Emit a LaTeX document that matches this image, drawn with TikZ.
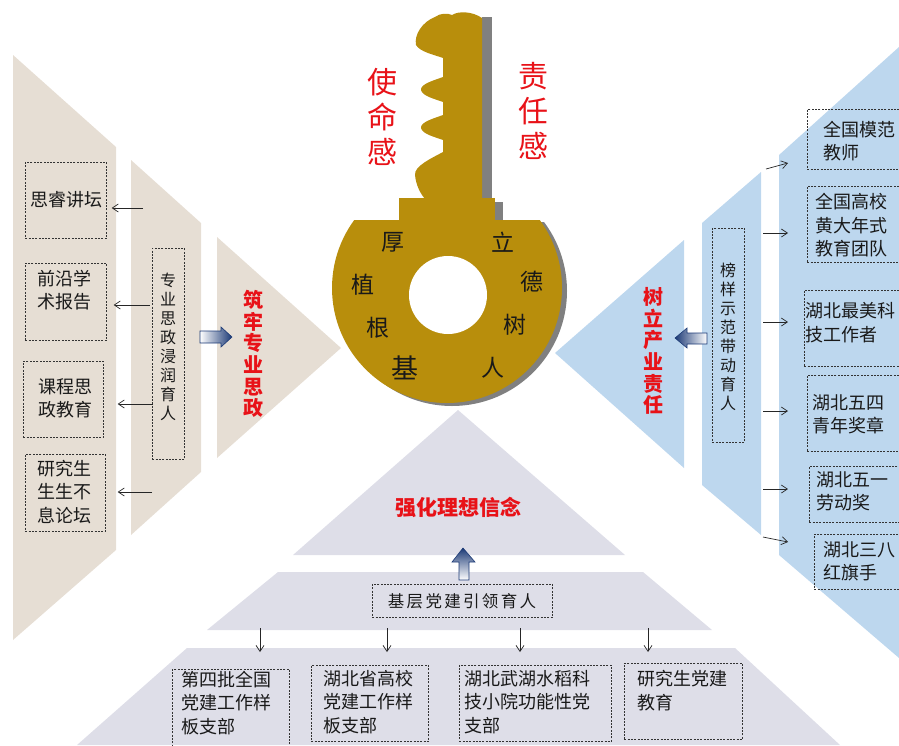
\documentclass[tikz,border=0pt]{standalone}
\usepackage{fontspec}
\setmainfont{Noto Sans CJK SC}
\usetikzlibrary{arrows.meta}

\definecolor{beige}{RGB}{230,222,212}
\definecolor{skyblue}{RGB}{189,215,238}
\definecolor{lavender}{RGB}{222,222,232}
\definecolor{keygold}{RGB}{184,142,12}
\definecolor{keyshadow}{RGB}{128,128,128}
\definecolor{redtxt}{RGB}{232,18,24}
\definecolor{arrowblue}{RGB}{28,58,118}

\tikzset{
  dbox/.style={draw=black!80, dash pattern=on 2pt off 1.3pt, line width=0.7pt,
               inner sep=0pt, anchor=north west},
  btxt/.style={font=\fontsize{18}{23.5}\selectfont, align=left, inner sep=0pt, text=black!90},
  vtxt/.style={font=\fontsize{16}{19}\selectfont, align=center, inner sep=0pt, text=black!90},
  redv/.style={font=\bfseries\fontsize{20}{21.6}\selectfont, text=redtxt, align=center, inner sep=0pt},
  keyred/.style={font=\fontsize{30}{35}\selectfont, text=redtxt, align=center, inner sep=0pt},
  keych/.style={font=\fontsize{23}{23}\selectfont, text=black!90, inner sep=0pt},
  arr/.style={-{Straight Barb[length=6pt,width=8pt]}, line width=0.7pt, draw=black!85},
  fatarrow/.style={draw=arrowblue, line width=0.6pt},
}

\begin{document}
\begin{tikzpicture}[x=1pt, y=-1pt]
\useasboundingbox (0,0) rectangle (899,745);
\clip (0,0) rectangle (899,745);

% ---------- left chevron (beige) ----------
\fill[beige] (13,55) -- (116,147) -- (116,550) -- (13,640) -- cycle;
\fill[beige] (131,160) -- (201,223) -- (201,472) -- (131,535) -- cycle;
\fill[beige] (217,237) -- (341,348) -- (217,458) -- cycle;

% ---------- right chevron (blue) ----------
\fill[skyblue] (555,353) -- (684,240) -- (684,468) -- cycle;
\fill[skyblue] (702,223) -- (761,172) -- (761,535) -- (702,485) -- cycle;
\fill[skyblue] (779,155) -- (899,47) -- (899,658) -- (779,555) -- cycle;

% ---------- bottom pyramid (lavender) ----------
\fill[lavender] (458,410) -- (625,555) -- (293,555) -- cycle;
\fill[lavender] (278,572) -- (643,572) -- (712,630) -- (207,630) -- cycle;
\fill[lavender] (187,648) -- (735,648) -- (840,745) -- (77,745) -- cycle;

% ---------- key ----------
% shadow
\fill[keyshadow] (482,17) rectangle (492,198);
\fill[keyshadow] (494,202) rectangle (503,224);
\begin{scope}
  \clip (300,222) rectangle (600,430);
  \fill[keyshadow] (452,291) circle (115);
\end{scope}
% bow
\begin{scope}
  \clip (300,220) rectangle (600,430);
  \fill[keygold] (447,288) circle (115);
\end{scope}
\fill[white] (448,295) circle (39);
% collar
\fill[keygold] (399,198) rectangle (495,221);
% blade with teeth
\fill[keygold] (482,199) -- (482,18)
  .. controls (472,11) and (458,11) .. (452,15)
  .. controls (448,13) and (440,13) .. (435,17)
  .. controls (422,22) and (414,35) .. (416,45)
  .. controls (420,52) and (435,55) .. (443,58) -- (443,77)
  .. controls (435,80) and (420,84) .. (421,90)
  .. controls (422,96) and (435,99) .. (443,102) -- (443,115)
  .. controls (435,118) and (420,122) .. (421,128)
  .. controls (422,134) and (435,137) .. (443,140) -- (443,152)
  .. controls (432,158) and (414,166) .. (415,175)
  .. controls (416,185) and (420,193) .. (425,199) -- cycle;

% key labels
\node[keyred] (mission) at (382,117) {使\\命\\感};
\node[keyred] (duty) at (533,111) {责\\任\\感};
\node[keych] (k1) at (393,242) {厚};
\node[keych] (k2) at (363,285) {植};
\node[keych] (k3) at (378,328) {根};
\node[keych, font=\fontsize{27}{27}\selectfont] (k4) at (405,368) {基};
\node[keych] (k5) at (503,242) {立};
\node[keych] (k6) at (532,282) {德};
\node[keych] (k7) at (515,325) {树};
\node[keych] (k8) at (493,368) {人};

% ---------- left side content ----------
\node[dbox, minimum width=81pt, minimum height=76pt] (L1) at (25,162) {};
\node[dbox, minimum width=81pt, minimum height=77pt] (L2) at (25,263) {};
\node[dbox, minimum width=80pt, minimum height=76pt] (L3) at (23,361) {};
\node[dbox, minimum width=80pt, minimum height=77pt] (L4) at (25,454) {};
\node[btxt] (L1t) at (66,200) {思睿讲坛};
\node[btxt] (L2t) at (64,290) {前沿学\\术报告};
\node[btxt] (L3t) at (65,398.5) {课程思\\政教育};
\node[btxt] (L4t) at (64,492) {研究生\\生生不\\息论坛};

\node[dbox, minimum width=32pt, minimum height=211pt] (ML) at (152,248) {};
\node[vtxt] (MLt) at (168,346.5) {专\\业\\思\\政\\浸\\润\\育\\人};
\node[redv] (redL) at (253,354) {筑\\牢\\专\\业\\思\\政};

\coordinate (la1) at (143,208);
\coordinate (la2) at (150,305);
\coordinate (la3) at (153,404);
\coordinate (la4) at (152,492);
\draw[arr, shorten >=5pt] (la1) -- (la1 -| L1.east);
\draw[arr, shorten >=7pt] (la2) -- (la2 -| L2.east);
\draw[arr, shorten >=14pt] (la3) -- (la3 -| L3.east);
\draw[arr, shorten >=12pt] (la4) -- (la4 -| L4.east);

% fat arrow toward the red label
\shade[left color=white, right color=arrowblue, fatarrow]
  (200,331) -- (221,331) -- (221,327) -- (232,337) -- (221,347) -- (221,343) -- (200,343) -- cycle;

% ---------- right side content ----------
\node[dbox, minimum width=120pt, minimum height=60pt] (R1) at (807,109) {};
\node[dbox, minimum width=120pt, minimum height=76pt] (R2) at (807,186) {};
\node[dbox, minimum width=120pt, minimum height=76pt] (R3) at (804,290) {};
\node[dbox, minimum width=120pt, minimum height=76pt] (R4) at (807,375) {};
\node[dbox, minimum width=120pt, minimum height=56pt] (R5) at (809,466) {};
\node[dbox, minimum width=120pt, minimum height=55pt] (R6) at (814,534) {};
\node[btxt, anchor=west] (R1t) at (823,141) {全国模范\\教师};
\node[btxt, anchor=west] (R2t) at (815,225.5) {全国高校\\黄大年式\\教育团队};
\node[btxt, anchor=west] (R3t) at (805,322.5) {湖北最美科\\技工作者};
\node[btxt, anchor=west] (R4t) at (812,414.5) {湖北五四\\青年奖章};
\node[btxt, anchor=west] (R5t) at (816,491) {湖北五一\\劳动奖};
\node[btxt, anchor=west] (R6t) at (823,561.5) {湖北三八\\红旗手};

\node[dbox, minimum width=32pt, minimum height=214pt] (MR) at (712,228) {};
\node[vtxt] (MRt) at (728,336.5) {榜\\样\\示\\范\\带\\动\\育\\人};
\node[redv] (redR) at (653,351) {树\\立\\产\\业\\责\\任};

\coordinate (ra1) at (766,169);
\coordinate (ra2) at (763,233);
\coordinate (ra3) at (763,322);
\coordinate (ra4) at (763,411);
\coordinate (ra5) at (763,489);
\coordinate (ra6) at (763,537);
\coordinate (re1) at (788,163);
\coordinate (re6) at (788,542);
\draw[arr] (ra1) -- (re1);
\draw[arr, shorten >=19pt] (ra2) -- (ra2 -| R2.west);
\draw[arr, shorten >=16pt] (ra3) -- (ra3 -| R3.west);
\draw[arr, shorten >=19pt] (ra4) -- (ra4 -| R4.west);
\draw[arr, shorten >=21pt] (ra5) -- (ra5 -| R5.west);
\draw[arr] (ra6) -- (re6);

\shade[left color=arrowblue, right color=white, fatarrow]
  (707,333) -- (687,333) -- (687,328) -- (675,338) -- (687,348) -- (687,344) -- (707,344) -- cycle;

% ---------- bottom content ----------
\node[font=\bfseries\fontsize{21}{21}\selectfont, text=redtxt, inner sep=0pt] (belief) at (458,507) {强化理想信念};

\shade[top color=arrowblue, bottom color=white, fatarrow]
  (463,548) -- (475,562) -- (469,562) -- (469,580) -- (459,580) -- (459,562) -- (452,562) -- cycle;

\node[dbox, minimum width=180pt, minimum height=33pt] (B0) at (372,584) {};
\node[font=\fontsize{16.5}{16.5}\selectfont\addfontfeatures{LetterSpace=14}, inner sep=0pt, text=black!90]
  (B0t) at (462,601) {基层党建引领育人};

\node[dbox, minimum width=117pt, minimum height=100pt] (B1) at (172,669) {};
\node[dbox, minimum width=117pt, minimum height=76pt] (B2) at (311,665) {};
\node[dbox, minimum width=152pt, minimum height=76pt] (B3) at (459,665) {};
\node[dbox, minimum width=118pt, minimum height=76pt] (B4) at (624,663) {};
\node[btxt, anchor=west] (B1t) at (181,703) {第四批全国\\党建工作样\\板支部};
\node[btxt, anchor=west] (B2t) at (323,702) {湖北省高校\\党建工作样\\板支部};
\node[btxt, anchor=west] (B3t) at (464,702) {湖北武湖水稻科\\技小院功能性党\\支部};
\node[btxt, anchor=west] (B4t) at (637,690.5) {研究生党建\\教育};

\coordinate (da1) at (260,628);
\coordinate (da2) at (387,628);
\coordinate (da3) at (520,628);
\coordinate (da4) at (648,628);
\draw[arr, shorten >=17pt] (da1) -- (da1 |- B1.north);
\draw[arr, shorten >=13pt] (da2) -- (da2 |- B2.north);
\draw[arr, shorten >=13pt] (da3) -- (da3 |- B3.north);
\draw[arr, shorten >=11pt] (da4) -- (da4 |- B4.north);

\end{tikzpicture}
\end{document}
